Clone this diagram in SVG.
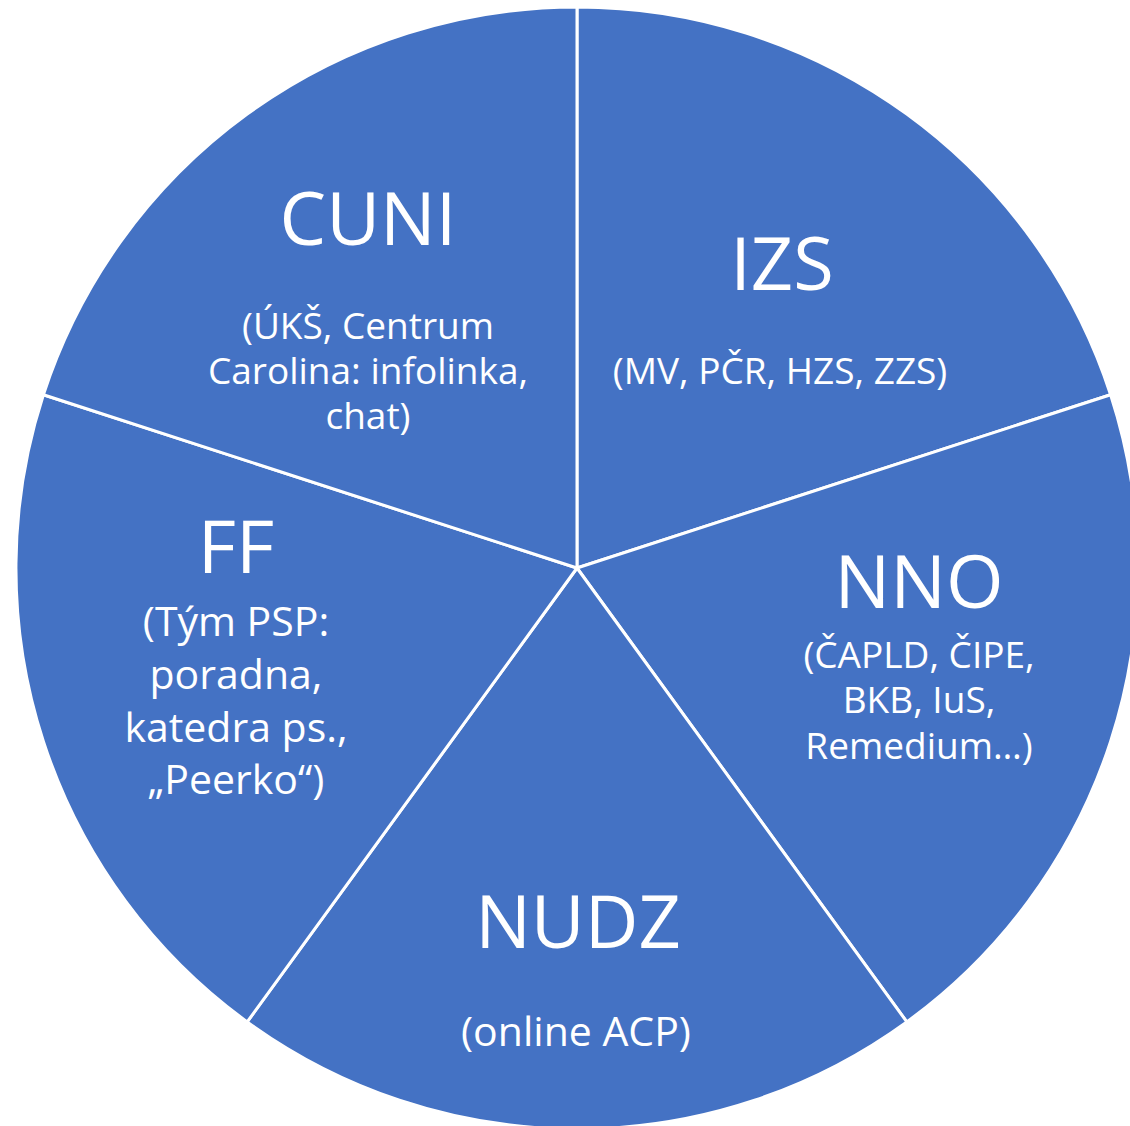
<svg xmlns="http://www.w3.org/2000/svg" width="1130" height="1126" viewBox="0 0 1130 1126">
<style>
.s{fill:#4472C4;stroke:#FFFFFF;stroke-width:3;stroke-linejoin:round}
.t{font-family:"Open Sans","Noto Sans",sans-serif;fill:#FFFFFF;text-anchor:middle}
.b{font-size:74px}
.m{font-size:37px}
.f{font-size:41px}
</style>
<rect width="1130" height="1126" fill="#FFFFFF"/>
<g id="IZS">
<path class="s" d="M577,568 L577,7 A561,561 0 0 1 1110.6,394.7 Z"/>
<text class="t b" x="782" y="290">IZS</text>
<text class="t m" x="780" y="384">(MV, PČR, HZS, ZZS)</text>
</g>
<g id="NNO">
<path class="s" d="M577,568 L1110.6,394.7 A561,561 0 0 1 906.8,1021.9 Z"/>
<text class="t b" x="919" y="608">NNO</text>
<text class="t m" x="919" y="668">(ČAPLD, ČIPE,</text>
<text class="t m" x="919" y="713">BKB, IuS,</text>
<text class="t m" x="919" y="759">Remedium…)</text>
</g>
<g id="NUDZ">
<path class="s" d="M577,568 L906.8,1021.9 A561,561 0 0 1 247.2,1021.9 Z"/>
<text class="t b" x="578" y="948">NUDZ</text>
<text class="t f" x="576" y="1046">(online ACP)</text>
</g>
<g id="FF">
<path class="s" d="M577,568 L247.2,1021.9 A561,561 0 0 1 43.4,394.7 Z"/>
<text class="t b" x="236" y="573">FF</text>
<text class="t f" x="236" y="636">(Tým PSP:</text>
<text class="t f" x="236" y="689">poradna,</text>
<text class="t f" x="236" y="742">katedra ps.,</text>
<text class="t f" x="236" y="794">„Peerko“)</text>
</g>
<g id="CUNI">
<path class="s" d="M577,568 L43.4,394.7 A561,561 0 0 1 577,7 Z"/>
<text class="t b" x="368" y="245">CUNI</text>
<text class="t m" x="368" y="339">(ÚKŠ, Centrum</text>
<text class="t m" x="368" y="384">Carolina: infolinka,</text>
<text class="t m" x="368" y="429">chat)</text>
</g>
<g id="connectors"></g>
</svg>
